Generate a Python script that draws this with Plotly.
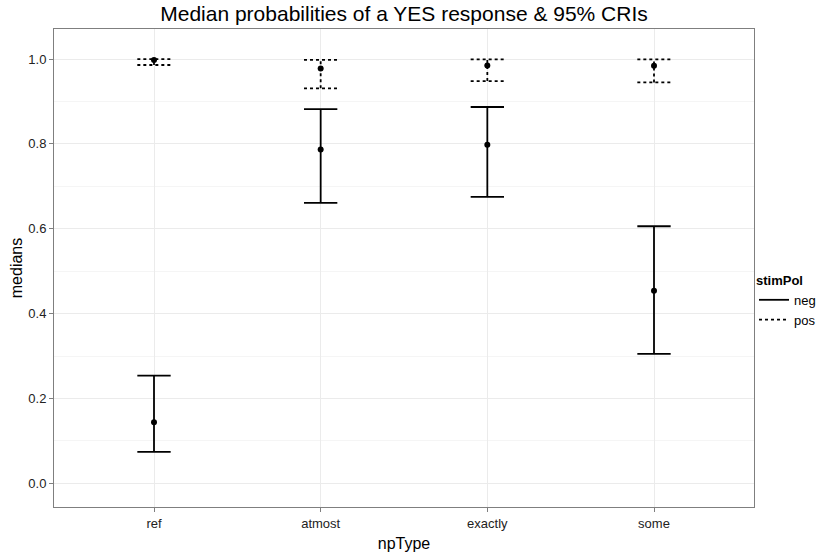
import plotly.graph_objects as go

categories = ["ref", "atmost", "exactly", "some"]
neg_median = [0.144, 0.787, 0.798, 0.454]
neg_lower = [0.074, 0.661, 0.675, 0.305]
neg_upper = [0.254, 0.882, 0.887, 0.606]
pos_median = [0.998, 0.978, 0.985, 0.984]
pos_lower = [0.986, 0.931, 0.948, 0.945]
pos_upper = [1.000, 0.998, 0.999, 0.999]

xpos = list(range(1, len(categories) + 1))
cap_half = 0.1


def segments(lo, hi):
    xs, ys = [], []
    for x, l, h in zip(xpos, lo, hi):
        xs += [x, x, None, x - cap_half, x + cap_half, None, x - cap_half, x + cap_half, None]
        ys += [l, h, None, l, l, None, h, h, None]
    return xs, ys


fig = go.Figure()
xs, ys = segments(neg_lower, neg_upper)
fig.add_trace(go.Scatter(x=xs, y=ys, mode="lines", name="neg",
                         line=dict(color="black", width=1.8), hoverinfo="skip"))
xs, ys = segments(pos_lower, pos_upper)
fig.add_trace(go.Scatter(x=xs, y=ys, mode="lines", name="pos",
                         line=dict(color="black", width=1.8, dash="3px,3px"), hoverinfo="skip"))
fig.add_trace(go.Scatter(x=xpos, y=neg_median, mode="markers", showlegend=False,
                         marker=dict(color="black", size=6)))
fig.add_trace(go.Scatter(x=xpos, y=pos_median, mode="markers", showlegend=False,
                         marker=dict(color="black", size=6)))

axis_common = dict(showline=True, linecolor="#7f7f7f", linewidth=1, mirror=True,
                   ticks="outside", ticklen=4, tickcolor="#7f7f7f",
                   tickfont=dict(size=13, color="#222222"), zeroline=False,
                   gridcolor="#ebebeb", gridwidth=1, automargin=False)

W, H = 828, 557
fig.update_layout(
    width=W, height=H,
    margin=dict(l=54, r=74, t=29, b=50, autoexpand=False),
    paper_bgcolor="white", plot_bgcolor="white",
    font=dict(family="Liberation Sans, Arial, sans-serif", color="black"),
    title=dict(text="Median probabilities of a YES response & 95% CRIs",
               x=0.5, xref="paper", xanchor="center",
               y=1 - 14 / H, yref="container", yanchor="middle",
               font=dict(size=21, color="black"), automargin=False),
    xaxis=dict(range=[0.4, 4.6], tickvals=xpos, ticktext=categories,
               title=dict(text="npType", font=dict(size=16, color="black"), standoff=8),
               **axis_common),
    yaxis=dict(range=[-0.0557, 1.0708], tickvals=[0, 0.2, 0.4, 0.6, 0.8, 1.0],
               tickformat=".1f",
               minor=dict(tickvals=[0.1, 0.3, 0.5, 0.7, 0.9], showgrid=True,
                          gridcolor="#f5f5f5", ticks=""),
               title=dict(text="medians", font=dict(size=16, color="black"), standoff=1),
               **axis_common),
    legend=dict(x=1.0, xanchor="left", y=0.43, yanchor="middle",
                title=dict(text="<b>stimPol</b>", font=dict(size=13)),
                font=dict(size=13), itemwidth=30, tracegroupgap=0,
                bgcolor="rgba(0,0,0,0)"),
)

fig.write_html("out.html", config={"displayModeBar": False},
               post_script="document.body.style.margin='0';")
